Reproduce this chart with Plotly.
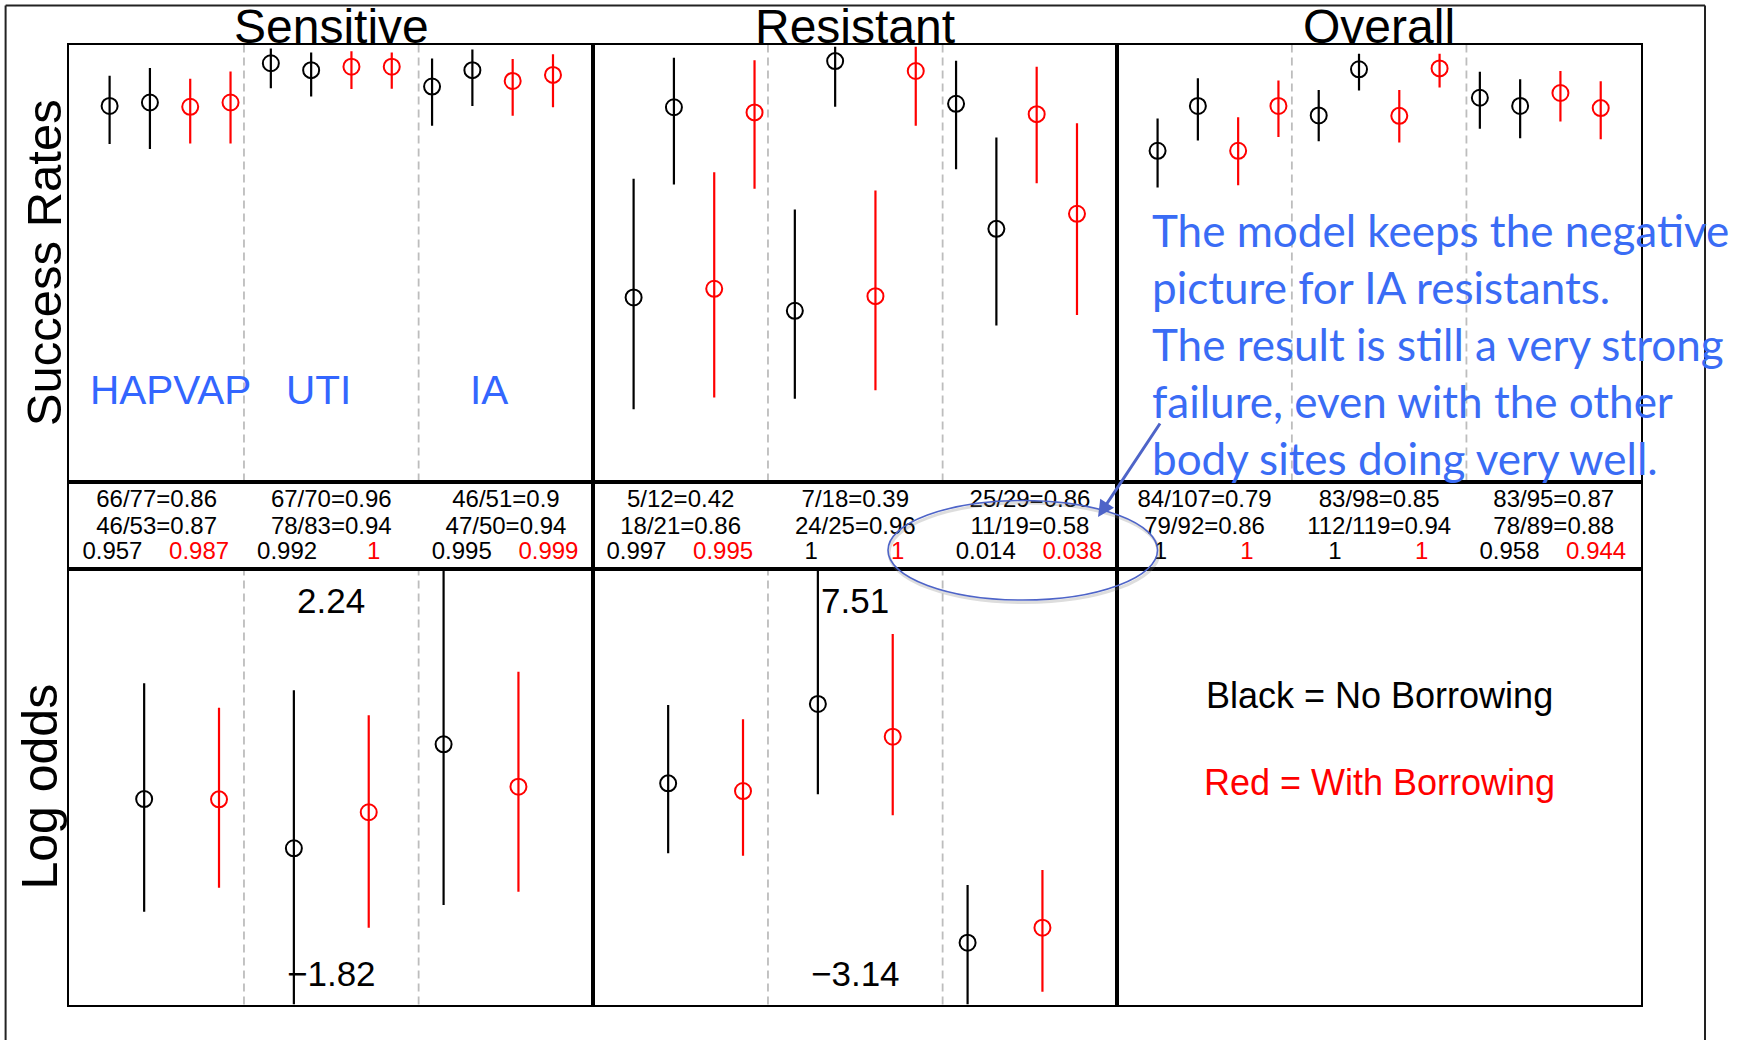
import plotly.graph_objects as go

# ---------------------------------------------------------------- data
groups = ["Sensitive", "Resistant", "Overall"]
sites = ["HAPVAP", "UTI", "IA"]

# Success-rate estimates, four per body site in plotting order:
# no borrowing (pair 1, pair 2), with borrowing (pair 1, pair 2)
sens_rate = [0.863, 0.871, 0.861, 0.871, 0.962, 0.946, 0.954, 0.954, 0.908, 0.946, 0.921, 0.935]
sens_rate_lo = [0.775, 0.763, 0.776, 0.776, 0.904, 0.885, 0.902, 0.903, 0.817, 0.863, 0.840, 0.860]
sens_rate_hi = [0.933, 0.951, 0.926, 0.943, 0.996, 0.987, 0.990, 0.987, 0.973, 0.994, 0.972, 0.983]

res_rate = [0.419, 0.860, 0.439, 0.848, 0.388, 0.967, 0.422, 0.944, 0.868, 0.578, 0.844, 0.613]
res_rate_lo = [0.160, 0.681, 0.187, 0.671, 0.184, 0.861, 0.204, 0.817, 0.716, 0.354, 0.684, 0.378]
res_rate_hi = [0.694, 0.975, 0.709, 0.969, 0.623, 1.000, 0.667, 1.000, 0.968, 0.790, 0.954, 0.823]

all_rate = [0.759, 0.863, 0.759, 0.863, 0.841, 0.948, 0.840, 0.950, 0.882, 0.863, 0.893, 0.858]
all_rate_lo = [0.674, 0.783, 0.679, 0.791, 0.781, 0.899, 0.778, 0.906, 0.810, 0.788, 0.827, 0.786]
all_rate_hi = [0.834, 0.927, 0.837, 0.922, 0.900, 0.984, 0.900, 0.984, 0.942, 0.925, 0.944, 0.920]

# Log-odds differences, two per site: no borrowing, with borrowing
sens_lor = [0.094, 0.091, -0.365, -0.029, 0.604, 0.209]
sens_lor_lo = [-0.955, -0.732, -1.82, -1.104, -0.893, -0.769]
sens_lor_hi = [1.172, 0.945, 1.107, 0.874, 2.24, 1.28]

res_lor = [2.265, 2.077, 4.204, 3.404, -1.63, -1.263]
res_lor_lo = [0.555, 0.496, 1.997, 1.483, -3.14, -2.827]
res_lor_hi = [4.179, 3.83, 7.51, 5.914, -0.22, 0.147]

# Observed counts per site
sens_succ1, sens_n1 = [66, 67, 46], [77, 70, 51]
sens_succ2, sens_n2 = [46, 78, 47], [53, 83, 50]
res_succ1, res_n1 = [5, 7, 25], [12, 18, 29]
res_succ2, res_n2 = [18, 24, 11], [21, 25, 19]
all_succ1, all_n1 = [84, 83, 83], [107, 98, 95]
all_succ2, all_n2 = [79, 112, 78], [92, 119, 89]

# Posterior probabilities (no borrowing, with borrowing)
sens_prob_nb, sens_prob_b = [0.957, 0.992, 0.995], [0.987, 1, 0.999]
res_prob_nb, res_prob_b = [0.997, 1, 0.014], [0.995, 1, 0.038]
all_prob_nb, all_prob_b = [1, 1, 0.958], [1, 1, 0.944]

note_lines = [
    "The model keeps the negative",
    "picture for IA resistants.",
    "The result is still a very strong",
    "failure, even with the other",
    "body sites doing very well.",
]

# ---------------------------------------------------------------- layout helpers
W, H = 1752, 1040


def px(x):
    return x / W


def py(y):
    return 1 - y / H


COLS = [(69.3, 593.3), (593.3, 1117.3), (1117.3, 1641.0)]
ROW_TOP = (44.7, 481.6)
ROW_TAB = (481.6, 568.7)
ROW_BOT = (568.7, 1004.5)

SANS = "Liberation Sans, Arial, sans-serif"
BLACK, RED = "#000000", "#ff0000"
BLUE_TXT = "rgb(58,108,245)"
BLUE_LINE = "rgb(78,100,200)"

frame = dict(showline=True, mirror=True, linecolor="black", linewidth=2,
             showgrid=False, zeroline=False, showticklabels=False, ticks="",
             fixedrange=True)

layout = dict(width=W, height=H, margin=dict(l=0, r=0, t=0, b=0),
              plot_bgcolor="white", paper_bgcolor="white", showlegend=False,
              shapes=[], annotations=[])


def add_axes(n, xdom, ydom, xrange, yrange):
    key = "" if n == 1 else str(n)
    layout["xaxis" + key] = dict(domain=[px(xdom[0]), px(xdom[1])], range=xrange,
                                 anchor="y" + key, **frame)
    layout["yaxis" + key] = dict(domain=[py(ydom[1]), py(ydom[0])], range=yrange,
                                 anchor="x" + key, **frame)
    return "x" + key, "y" + key


def label(**kw):
    base = dict(showarrow=False, xanchor="center", yanchor="middle")
    base.update(kw)
    layout["annotations"].append(base)


fig = go.Figure()

top_sets = [(sens_rate, sens_rate_lo, sens_rate_hi),
            (res_rate, res_rate_lo, res_rate_hi),
            (all_rate, all_rate_lo, all_rate_hi)]
bot_sets = [(sens_lor, sens_lor_lo, sens_lor_hi),
            (res_lor, res_lor_lo, res_lor_hi)]
tab_sets = [(sens_succ1, sens_n1, sens_succ2, sens_n2, sens_prob_nb, sens_prob_b),
            (res_succ1, res_n1, res_succ2, res_n2, res_prob_nb, res_prob_b),
            (all_succ1, all_n1, all_succ2, all_n2, all_prob_nb, all_prob_b)]


def interval_trace(xs, mids, los, his, color, xa, ya):
    return go.Scatter(
        x=xs, y=mids, xaxis=xa, yaxis=ya, mode="markers", hoverinfo="skip",
        marker=dict(symbol="circle-open", size=16, color=color,
                    line=dict(width=2, color=color)),
        error_y=dict(type="data", symmetric=False,
                     array=[h - m for h, m in zip(his, mids)],
                     arrayminus=[m - l for m, l in zip(mids, los)],
                     width=0, thickness=2.2, color=color),
    )


def dashed(xa, ya, xv):
    layout["shapes"].append(dict(type="line", xref=xa, yref=ya + " domain",
                                 x0=xv, x1=xv, y0=0, y1=1, layer="below",
                                 line=dict(color="#bdbdbd", width=1.8, dash="8px,5px")))


def fmt_rate(s, n):
    return f"{s}/{n}={round(s / n, 2):g}"


def text_row(xs, ys, texts, color, xa, ya):
    return go.Scatter(x=xs, y=ys, xaxis=xa, yaxis=ya, mode="text", text=texts,
                      hoverinfo="skip", textposition="middle center",
                      textfont=dict(family=SANS, size=24, color=color))


SITE_W_TOP = 13 / 3
for g in range(3):
    # success rates
    xa, ya = add_axes(g + 1, COLS[g], ROW_TOP, [0, 13], [-0.008, 1.005])
    mids, los, his = top_sets[g]
    xs = list(range(1, 13))
    for color, keep in ((BLACK, (0, 1)), (RED, (2, 3))):
        idx = [i for i in range(12) if i % 4 in keep]
        fig.add_trace(interval_trace([xs[i] for i in idx], [mids[i] for i in idx],
                                     [los[i] for i in idx], [his[i] for i in idx],
                                     color, xa, ya))
    for k in (1, 2):
        dashed(xa, ya, k * SITE_W_TOP)

    # summary table
    xa_t, ya_t = add_axes(g + 4, COLS[g], ROW_TAB, [0, 13], [0, 1])
    s1, n1, s2, n2, pnb, pb = tab_sets[g]
    centers = [k * SITE_W_TOP + SITE_W_TOP / 2 for k in range(3)]
    fig.add_trace(text_row(centers, [0.775] * 3, [fmt_rate(a, b) for a, b in zip(s1, n1)],
                           BLACK, xa_t, ya_t))
    fig.add_trace(text_row(centers, [0.465] * 3, [fmt_rate(a, b) for a, b in zip(s2, n2)],
                           BLACK, xa_t, ya_t))
    fig.add_trace(text_row([k * SITE_W_TOP + 1.07 for k in range(3)], [0.175] * 3,
                           [f"{v:g}" for v in pnb], BLACK, xa_t, ya_t))
    fig.add_trace(text_row([k * SITE_W_TOP + 3.22 for k in range(3)], [0.175] * 3,
                           [f"{v:g}" for v in pb], RED, xa_t, ya_t))

    # log odds
    if g < 2:
        mids, los, his = bot_sets[g]
        lo_lim, hi_lim = min(los), max(his)
        xa_b, ya_b = add_axes(g + 7, COLS[g], ROW_BOT, [0, 7], [lo_lim, hi_lim])
        fig.add_trace(interval_trace([1, 3, 5], mids[0::2], los[0::2], his[0::2], BLACK, xa_b, ya_b))
        fig.add_trace(interval_trace([2, 4, 6], mids[1::2], los[1::2], his[1::2], RED, xa_b, ya_b))
        for k in (1, 2):
            dashed(xa_b, ya_b, k * 7 / 3)
        for val, yd in ((hi_lim, 0.928), (lo_lim, 0.07)):
            label(x=3.5, y=yd, xref=xa_b, yref=ya_b + " domain",
                  text=f"{val:.2f}".replace("-", "\u2212"),
                  font=dict(family=SANS, size=35, color=BLACK))
    else:
        xa_b, ya_b = add_axes(g + 7, COLS[g], ROW_BOT, [0, 1], [0, 1])
        label(x=0.5, y=0.708, xref=xa_b, yref=ya_b, text="Black = No Borrowing",
              font=dict(family=SANS, size=36, color=BLACK))
        label(x=0.5, y=0.509, xref=xa_b, yref=ya_b, text="Red = With Borrowing",
              font=dict(family=SANS, size=36, color=RED))

    # column heading
    label(x=px((COLS[g][0] + COLS[g][1]) / 2), y=py(26.5), xref="paper", yref="paper",
          text=groups[g], font=dict(family=SANS, size=48, color=BLACK))

# body-site labels in the sensitive panel
for name, xv in zip(sites, (2.52, 6.18, 10.42)):
    label(x=xv, y=0.2045, xref="x", yref="y", text=name,
          font=dict(family=SANS, size=40.5, color="rgb(51,102,255)"))

# row labels
label(x=px(44), y=py((ROW_TOP[0] + ROW_TOP[1]) / 2), xref="paper", yref="paper",
      textangle=-90, text="Success Rates", font=dict(family=SANS, size=49, color=BLACK))
label(x=px(40), y=py((ROW_BOT[0] + ROW_BOT[1]) / 2), xref="paper", yref="paper",
      textangle=-90, text="Log odds", font=dict(family=SANS, size=50, color=BLACK))

# commentary text
for i, line in enumerate(note_lines):
    label(x=px(1150), y=py(230 + 57 * i), xref="paper", yref="paper",
          xanchor="left", text=line,
          font=dict(family="Lato, sans-serif", size=44, color=BLUE_TXT))

# arrow pointing to the IA resistant result
layout["annotations"].append(dict(
    x=px(1098), y=py(517), xref="paper", yref="paper", text="", showarrow=True,
    ax=63, ay=-95, arrowhead=2, arrowsize=1.1, arrowwidth=3, arrowcolor=BLUE_LINE))

# ellipse around the IA resistant probabilities
layout["shapes"].append(dict(type="circle", xref="paper", yref="paper",
                             x0=px(889), x1=px(1159), y0=py(602.5), y1=py(503),
                             line=dict(color="rgba(120,120,120,0.25)", width=3)))
layout["shapes"].append(dict(type="circle", xref="paper", yref="paper",
                             x0=px(888), x1=px(1157.5), y0=py(600), y1=py(500.5),
                             line=dict(color=BLUE_LINE, width=1.6)))

# outer border
for x0, y0, x1, y1 in ((5.6, 5.6, 1705, 5.6), (5.6, 5.6, 5.6, 1045), (1705, 5.6, 1705, 1045)):
    layout["shapes"].append(dict(type="line", xref="paper", yref="paper",
                                 x0=px(x0), x1=px(x1), y0=py(y0), y1=py(y1),
                                 line=dict(color="#222222", width=2)))

fig.update_layout(**layout)
fig.write_html("out.html")
